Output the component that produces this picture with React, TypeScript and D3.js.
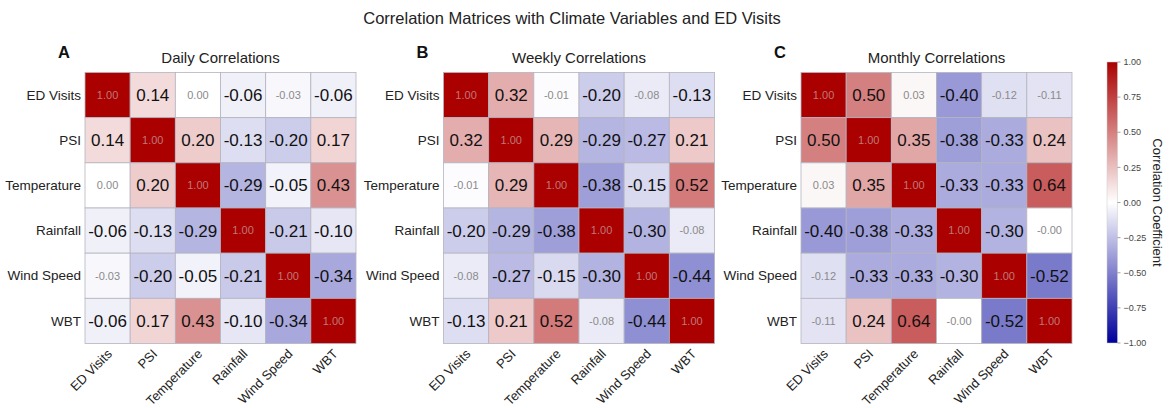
import React from "react";
import * as d3 from "d3";

const variables = ["ED Visits", "PSI", "Temperature", "Rainfall", "Wind Speed", "WBT"];

const dailyR = [
  [1.0, 0.14, 0.0, -0.06, -0.03, -0.06],
  [0.14, 1.0, 0.2, -0.13, -0.2, 0.17],
  [0.0, 0.2, 1.0, -0.29, -0.05, 0.43],
  [-0.06, -0.13, -0.29, 1.0, -0.21, -0.1],
  [-0.03, -0.2, -0.05, -0.21, 1.0, -0.34],
  [-0.06, 0.17, 0.43, -0.1, -0.34, 1.0],
];
const weeklyR = [
  [1.0, 0.32, -0.01, -0.2, -0.08, -0.13],
  [0.32, 1.0, 0.29, -0.29, -0.27, 0.21],
  [-0.01, 0.29, 1.0, -0.38, -0.15, 0.52],
  [-0.2, -0.29, -0.38, 1.0, -0.3, -0.08],
  [-0.08, -0.27, -0.15, -0.3, 1.0, -0.44],
  [-0.13, 0.21, 0.52, -0.08, -0.44, 1.0],
];
const monthlyR = [
  [1.0, 0.5, 0.03, -0.4, -0.12, -0.11],
  [0.5, 1.0, 0.35, -0.38, -0.33, 0.24],
  [0.03, 0.35, 1.0, -0.33, -0.33, 0.64],
  [-0.4, -0.38, -0.33, 1.0, -0.3, -0.001],
  [-0.12, -0.33, -0.33, -0.3, 1.0, -0.52],
  [-0.11, 0.24, 0.64, -0.001, -0.52, 1.0],
];

// 1 = significant (large black label), 0 = not significant (small grey label)
const dailySig = [
  [0, 1, 0, 1, 0, 1],
  [1, 0, 1, 1, 1, 1],
  [0, 1, 0, 1, 1, 1],
  [1, 1, 1, 0, 1, 1],
  [0, 1, 1, 1, 0, 1],
  [1, 1, 1, 1, 1, 0],
];
const weeklySig = [
  [0, 1, 0, 1, 0, 1],
  [1, 0, 1, 1, 1, 1],
  [0, 1, 0, 1, 1, 1],
  [1, 1, 1, 0, 1, 0],
  [0, 1, 1, 1, 0, 1],
  [1, 1, 1, 0, 1, 0],
];
const monthlySig = [
  [0, 1, 0, 1, 0, 0],
  [1, 0, 1, 1, 1, 1],
  [0, 1, 0, 1, 1, 1],
  [1, 1, 1, 0, 1, 0],
  [0, 1, 1, 1, 0, 1],
  [0, 1, 1, 0, 1, 0],
];

const panelLetters = ["A", "B", "C"];
const panelTitles = ["Daily Correlations", "Weekly Correlations", "Monthly Correlations"];
const colorbarTicks = [1, 0.75, 0.5, 0.25, 0, -0.25, -0.5, -0.75, -1];

const FONT = "'Liberation Sans', Arial, Helvetica, sans-serif";
const W = 1171;
const H = 408;
const panelLeft = [85, 443.5, 801];
const gridTop = 72.5;
const gridSize = 271;

const color = d3
  .scaleLinear<string>()
  .domain([-1, 0, 1])
  .range(["#00009b", "#ffffff", "#aa0000"])
  .interpolate(d3.interpolateRgb);

function Heatmap({ left, matrix, sig, letter, title }: any) {
  const x = d3.scaleBand().domain(variables).range([left, left + gridSize]);
  const y = d3.scaleBand().domain(variables).range([gridTop, gridTop + gridSize]);
  const bw = x.bandwidth();
  return (
    <g>
      <text x={left - 27} y={58} fontSize={16.5} fontWeight="bold" fill="#111">
        {letter}
      </text>
      <text x={left + gridSize / 2} y={63} fontSize={15} textAnchor="middle" fill="#222">
        {title}
      </text>
      {matrix.map((row: number[], i: number) =>
        row.map((v: number, j: number) => {
          const cx = x(variables[j])! + bw / 2;
          const cy = y(variables[i])! + bw / 2;
          const diag = i === j;
          const big = sig[i][j] === 1;
          return (
            <g key={`${i}-${j}`}>
              <rect
                x={x(variables[j])}
                y={y(variables[i])}
                width={bw}
                height={bw}
                fill={color(v)}
                stroke="#b4b4c0"
                strokeWidth={0.8}
              />
              <text
                x={cx}
                y={cy}
                dy="0.35em"
                textAnchor="middle"
                fontSize={big ? 17 : 11}
                fill={diag ? "#bf7878" : big ? "#111" : "#8a8a8a"}
              >
                {v.toFixed(2)}
              </text>
            </g>
          );
        })
      )}
      {variables.map((name) => (
        <text
          key={"y" + name}
          x={left - 4}
          y={y(name)! + bw / 2}
          dy="0.35em"
          textAnchor="end"
          fontSize={13.5}
          fill="#222"
        >
          {name}
        </text>
      ))}
      {variables.map((name) => {
        const tx = x(name)! + bw / 2 + 2;
        const ty = gridTop + gridSize + 8;
        return (
          <text
            key={"x" + name}
            transform={`translate(${tx},${ty}) rotate(-45)`}
            textAnchor="end"
            dy="0.35em"
            fontSize={13}
            fill="#222"
          >
            {name}
          </text>
        );
      })}
    </g>
  );
}

function Colorbar() {
  const x0 = 1107;
  const cbW = 10.5;
  const top = 62;
  const bottom = 343;
  const s = d3.scaleLinear().domain([1, -1]).range([top, bottom]);
  const stops = d3.range(0, 1.0001, 0.05);
  return (
    <g>
      <defs>
        <linearGradient id="cbGrad" x1="0" y1="0" x2="0" y2="1">
          {stops.map((t) => (
            <stop key={t} offset={t} stopColor={color(1 - 2 * t)} />
          ))}
        </linearGradient>
      </defs>
      <rect x={x0} y={top} width={cbW} height={bottom - top} fill="url(#cbGrad)" stroke="#ccc" strokeWidth={0.5} />
      {colorbarTicks.map((t) => (
        <g key={t}>
          <line x1={x0 + cbW} x2={x0 + cbW + 3} y1={s(t)} y2={s(t)} stroke="#666" strokeWidth={0.6} />
          <text x={x0 + cbW + 6} y={s(t)} dy="0.35em" fontSize={9} fill="#444">
            {t.toFixed(2).replace("-", "\u2212")}
          </text>
        </g>
      ))}
      <text
        transform={`translate(1153,${(top + bottom) / 2}) rotate(90)`}
        textAnchor="middle"
        fontSize={13}
        fill="#222"
      >
        Correlation Coefficient
      </text>
    </g>
  );
}

export default function App() {
  const matrices = [dailyR, weeklyR, monthlyR];
  const sigs = [dailySig, weeklySig, monthlySig];
  return (
    <svg
      width={W}
      height={H}
      style={{ position: "absolute", left: 0, top: 0, background: "#fff", fontFamily: FONT }}
    >
      <text x={572} y={24} fontSize={16.5} textAnchor="middle" fill="#222">
        Correlation Matrices with Climate Variables and ED Visits
      </text>
      {matrices.map((m, k) => (
        <Heatmap
          key={k}
          left={panelLeft[k]}
          matrix={m}
          sig={sigs[k]}
          letter={panelLetters[k]}
          title={panelTitles[k]}
        />
      ))}
      <Colorbar />
    </svg>
  );
}
